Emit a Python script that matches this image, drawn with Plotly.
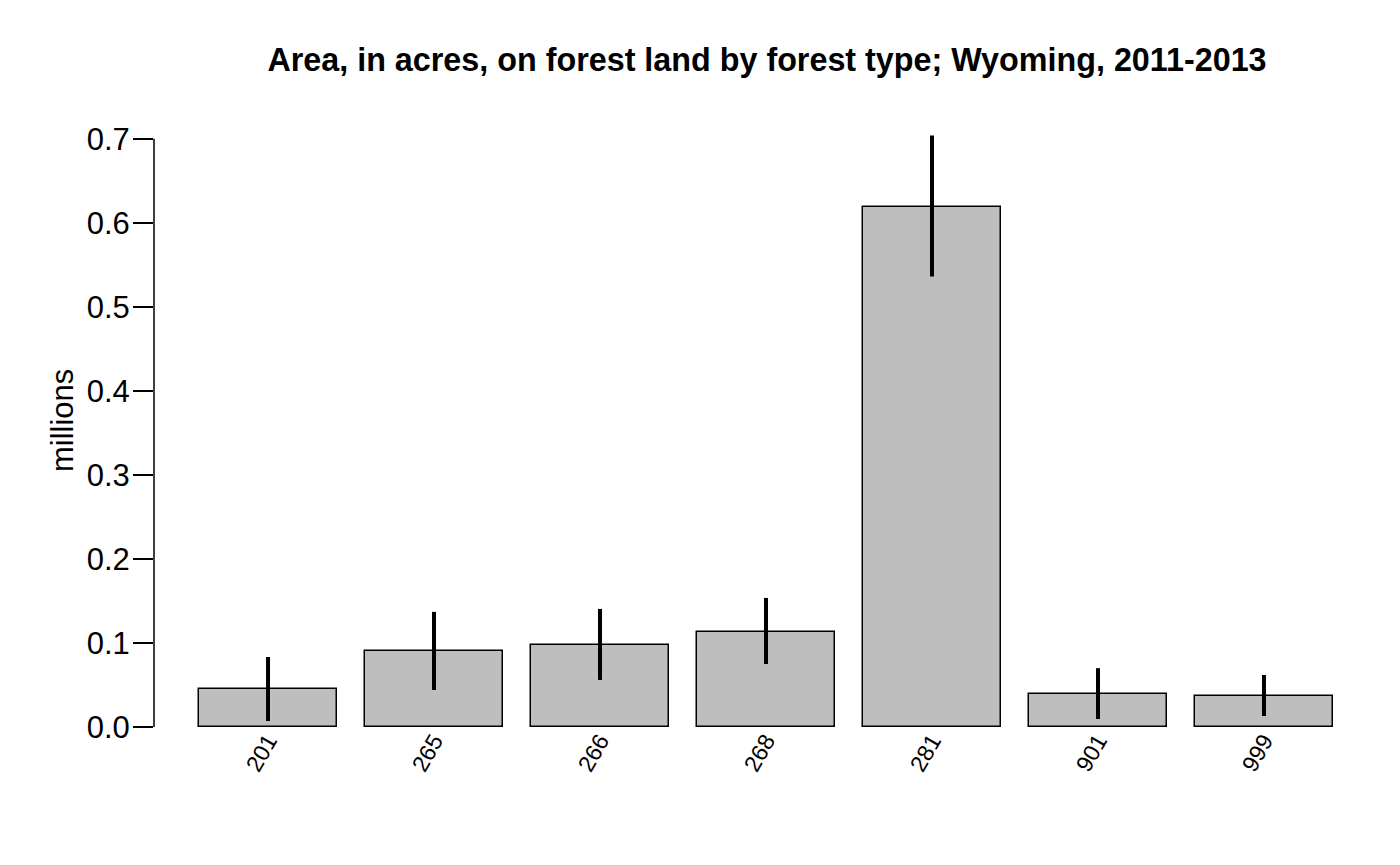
import plotly.graph_objects as go

categories = ["201", "265", "266", "268", "281", "901", "999"]
values = [0.0452, 0.0900, 0.0976, 0.1130, 0.6190, 0.0393, 0.0369]
err_upper = [0.0833, 0.1370, 0.1405, 0.1536, 0.7040, 0.0700, 0.0619]
err_lower = [0.0071, 0.0440, 0.0560, 0.0750, 0.5360, 0.0095, 0.0131]
yticks = [0.0, 0.1, 0.2, 0.3, 0.4, 0.5, 0.6, 0.7]

xpos = list(range(len(categories)))
plus = [u - v for u, v in zip(err_upper, values)]
minus = [v - l for v, l in zip(values, err_lower)]

FONT = "Liberation Sans, Arial, Helvetica, sans-serif"
W, H = 1392, 857
L, R, T, B = 146, 20, 114, 138
PW = W - L - R
PH = H - T - B

fig = go.Figure()
fig.add_trace(go.Bar(
    x=xpos, y=values, width=1 / 1.2,
    marker=dict(color="#BEBEBE", line=dict(color="black", width=1.5)),
    error_y=dict(type="data", symmetric=False, array=plus, arrayminus=minus,
                 color="black", thickness=4, width=0),
    showlegend=False,
))

fig.add_shape(type="line", xref="paper", yref="y", x0=0, x1=0,
              y0=yticks[0], y1=yticks[-1], line=dict(color="black", width=1.5))

fig.add_annotation(text="millions", textangle=-90, showarrow=False,
                   xref="paper", yref="paper", x=(55 - L) / PW, y=(605 - 299) / PH,
                   xanchor="center", yanchor="middle",
                   font=dict(size=31, family=FONT, color="black"))

fig.update_layout(
    width=W, height=H,
    margin=dict(l=L, r=R, t=T, b=B, autoexpand=False),
    paper_bgcolor="white", plot_bgcolor="white",
    font=dict(family=FONT, color="black"),
    title=dict(text="<b>Area, in acres, on forest land by forest type; Wyoming, 2011-2013</b>",
               x=759 / W, xanchor="center", y=1 - 52 / H, yanchor="middle",
               font=dict(size=32.3, family=FONT, color="black")),
    bargap=0,
)
fig.update_xaxes(
    range=[-0.687, 6.699], tickmode="array", tickvals=xpos, ticktext=categories,
    tickangle=-60, showgrid=False, zeroline=False, showline=False, ticks="",
    tickfont=dict(size=23, family=FONT, color="black"), automargin=False,
    ticklabelstandoff=-5,
)
fig.update_yaxes(
    range=[0, 0.72], tickmode="array", tickvals=yticks,
    ticktext=[f"{t:.1f}" for t in yticks],
    showgrid=False, zeroline=False, showline=False,
    ticks="outside", ticklen=20, tickwidth=1.5, tickcolor="black",
    tickfont=dict(size=31, family=FONT, color="black"), automargin=False,
    ticklabelstandoff=-3,
)

fig.write_html("out.html")
